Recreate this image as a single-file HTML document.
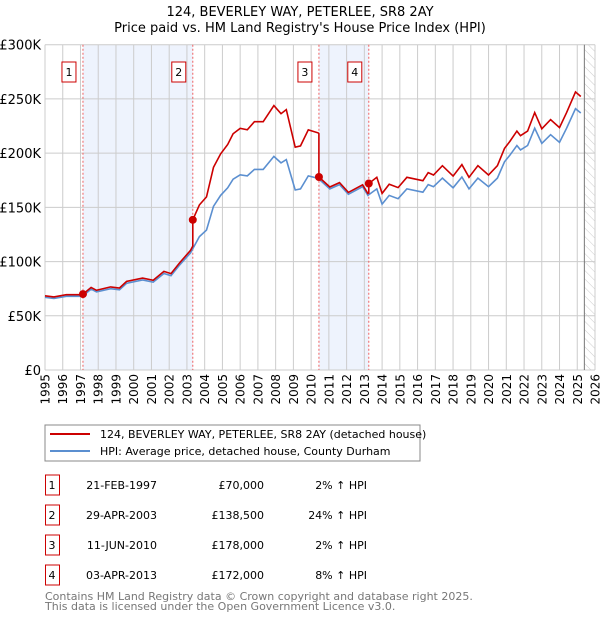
<!DOCTYPE html>
<html><head><meta charset="utf-8"><style>
body{margin:0;background:#fff;font-family:"DejaVu Sans","Liberation Sans",sans-serif;}
svg text{font-family:"DejaVu Sans","Liberation Sans",sans-serif;}
</style></head><body>
<svg id="c" width="600" height="620" xmlns="http://www.w3.org/2000/svg">
<defs><pattern id="hatch" width="6" height="6" patternUnits="userSpaceOnUse" patternTransform="rotate(-45)"><line x1="0" y1="0" x2="0" y2="6" stroke="#ccc" stroke-width="1"/></pattern></defs>
<text x="300" y="16" text-anchor="middle" font-size="13">124, BEVERLEY WAY, PETERLEE, SR8 2AY</text>
<text x="300" y="32" text-anchor="middle" font-size="13">Price paid vs. HM Land Registry's House Price Index (HPI)</text>
<g id="plot"></g>
<rect x="45" y="425" width="375" height="36" fill="#fff" stroke="#888"/>
<line x1="50" y1="434" x2="90" y2="434" stroke="#cc0000" stroke-width="2"/>
<text x="100" y="438" font-size="11">124, BEVERLEY WAY, PETERLEE, SR8 2AY (detached house)</text>
<line x1="50" y1="451" x2="90" y2="451" stroke="#5b8fd0" stroke-width="2"/>
<text x="100" y="455" font-size="11">HPI: Average price, detached house, County Durham</text>
<g id="tbl"></g>
<text x="45" y="600" font-size="11" fill="#777">Contains HM Land Registry data © Crown copyright and database right 2025.</text>
<text x="45" y="610" font-size="11" fill="#777">This data is licensed under the Open Government Licence v3.0.</text>
</svg>
<script>
const hpiYears=[1995.0,1995.5,1996.2,1996.7,1997.1,1997.6,1997.9,1998.7,1999.2,1999.6,2000.5,2001.1,2001.7,2002.1,2002.6,2003.2,2003.7,2004.1,2004.5,2004.9,2005.3,2005.6,2006.0,2006.4,2006.8,2007.3,2007.9,2008.3,2008.6,2009.1,2009.4,2009.84,2010.4,2011.05,2011.6,2012.1,2012.9,2013.2,2013.7,2014.0,2014.4,2014.9,2015.4,2016.3,2016.6,2016.9,2017.4,2018.0,2018.5,2018.9,2019.4,2020.0,2020.5,2020.9,2021.2,2021.6,2021.8,2022.2,2022.6,2023.0,2023.5,2024.0,2024.4,2024.9,2025.2];
const hpiValues=[67,66,68,68,68,74.6,72,75,74,80,83,81,89,87,97,108,123,129,151,161,168,176,180,179,185,185,197,191,194,166,167,179,176.7,167,171,162,169,161,167,153,161,158,167,164,171,169,177,168,178,167,177,169,177,192,198,207,203,207,223,209,217,210,223,241,237];
const saleLabels=["1","2","3","4"];
const saleDates=[1997.14,2003.33,2010.44,2013.25];
const saleDateText=["21-FEB-1997","29-APR-2003","11-JUN-2010","03-APR-2013"];
const salePrices=[70000,138500,178000,172000];
const saleHpiText=["2% ↑ HPI","24% ↑ HPI","2% ↑ HPI","8% ↑ HPI"];
const yTicks=[0,50,100,150,200,250,300];
const yTickLabels=["£0","£50K","£100K","£150K","£200K","£250K","£300K"];
const xTicks=[1995,1996,1997,1998,1999,2000,2001,2002,2003,2004,2005,2006,2007,2008,2009,2010,2011,2012,2013,2014,2015,2016,2017,2018,2019,2020,2021,2022,2023,2024,2025,2026];

const X0=45,X1=595,Y0=370,Y1=44.7;
const xs=y=>X0+(y-1995)/(2026-1995)*(X1-X0);
const ys=v=>Y0-v/300*(Y0-Y1);
const NS="http://www.w3.org/2000/svg";
const plot=document.getElementById('plot');
function mk(t,a,p){const e=document.createElementNS(NS,t);for(const k in a)e.setAttribute(k,a[k]);(p||plot).appendChild(e);return e;}
function hpiAt(t){if(t<=hpiYears[0])return hpiValues[0];for(let i=1;i<hpiYears.length;i++){if(t<=hpiYears[i]){const f=(t-hpiYears[i-1])/(hpiYears[i]-hpiYears[i-1]);return hpiValues[i-1]+f*(hpiValues[i]-hpiValues[i-1]);}}return hpiValues[hpiValues.length-1];}

for(let i=0;i<saleDates.length;i+=2){
 const r=mk('rect',{x:xs(saleDates[i]),y:Y1,width:xs(saleDates[i+1])-xs(saleDates[i]),height:Y0-Y1,fill:'#eef3fd'});
 
 
}
const hz=mk('rect',{x:xs(2025.4),y:Y1,width:X1-xs(2025.4),height:Y0-Y1,fill:'url(#hatch)'});


xTicks.forEach(t=>{
 const l=mk('line',{x1:xs(t),x2:xs(t),y1:Y1,y2:Y0,stroke:'#ccc','stroke-width':1});
 
 
 const x=xs(t)+4.5,y=Y0+4;
 const tx=mk('text',{x:x,y:y,'text-anchor':'end','font-size':12,transform:'rotate(-90 '+x+' '+y+')'});
 tx.textContent=t;
 
 
});
yTicks.forEach((t,i)=>{
 const l=mk('line',{x1:X0,x2:X1,y1:ys(t),y2:ys(t),stroke:'#ccc','stroke-width':1});
 
 
 const tx=mk('text',{x:X0-4,y:ys(t)+5,'text-anchor':'end','font-size':13});
 tx.textContent=yTickLabels[i];
 
 
});
const ax=mk('line',{x1:xs(2025.4),x2:xs(2025.4),y1:Y1,y2:Y0,stroke:'#777','stroke-width':1});


saleDates.forEach((d,i)=>{
 const l=mk('line',{x1:xs(d),x2:xs(d),y1:Y1,y2:Y0,stroke:'#f06060','stroke-width':1,'stroke-dasharray':'2,2'});
 
 
});
const pts=hpiYears.map((y,i)=>xs(y).toFixed(1)+','+ys(hpiValues[i]).toFixed(1)).join(' ');
const hl=mk('polyline',{points:pts,fill:'none',stroke:'#5b8fd0','stroke-width':1.6});


const ratios=saleDates.map((d,i)=>salePrices[i]/1000/hpiAt(d));
let rp=[];
const allT=hpiYears.concat(saleDates).sort((a,b)=>a-b);
allT.forEach(t=>{
 let seg=0;for(let i=0;i<saleDates.length;i++)if(t>=saleDates[i])seg=i;
 if(saleDates.includes(t)&&seg>0){const prev=hpiAt(t)*ratios[seg-1];rp.push(xs(t).toFixed(1)+','+ys(prev).toFixed(1));}
 rp.push(xs(t).toFixed(1)+','+ys(hpiAt(t)*ratios[seg]).toFixed(1));
});
const pl=mk('polyline',{points:rp.join(' '),fill:'none',stroke:'#cc0000','stroke-width':1.6});


saleDates.forEach((d,i)=>{
 const c=mk('circle',{cx:xs(d),cy:ys(salePrices[i]/1000),r:4,fill:'#cc0000'});
 
 
 const b=mk('rect',{x:xs(d)-21,y:62,width:14,height:20,fill:'#fff',stroke:'#cc0000'});
 
 
 const t=mk('text',{x:xs(d)-14,y:76,'text-anchor':'middle','font-size':11});
 t.textContent=saleLabels[i];
 
 
});
const tbl=document.getElementById('tbl');
saleDates.forEach((d,i)=>{
 const cy=485+i*30;
 const b=mk('rect',{x:45.5,y:cy-10,width:14,height:20,fill:'#fff',stroke:'#cc0000'},tbl);
 
 
 const vals=[[saleLabels[i],52,'middle'],[saleDateText[i],157,'end'],['£'+salePrices[i].toLocaleString('en-GB'),264,'end'],[saleHpiText[i],367,'end']];
 const names=['table-num','table-date','table-price','table-hpi'];
 vals.forEach((v,j)=>{
  const t=mk('text',{x:v[1],y:cy+4,'text-anchor':v[2],'font-size':11},tbl);
  t.textContent=v[0];
  
  
 });
});
</script>
</body></html>
